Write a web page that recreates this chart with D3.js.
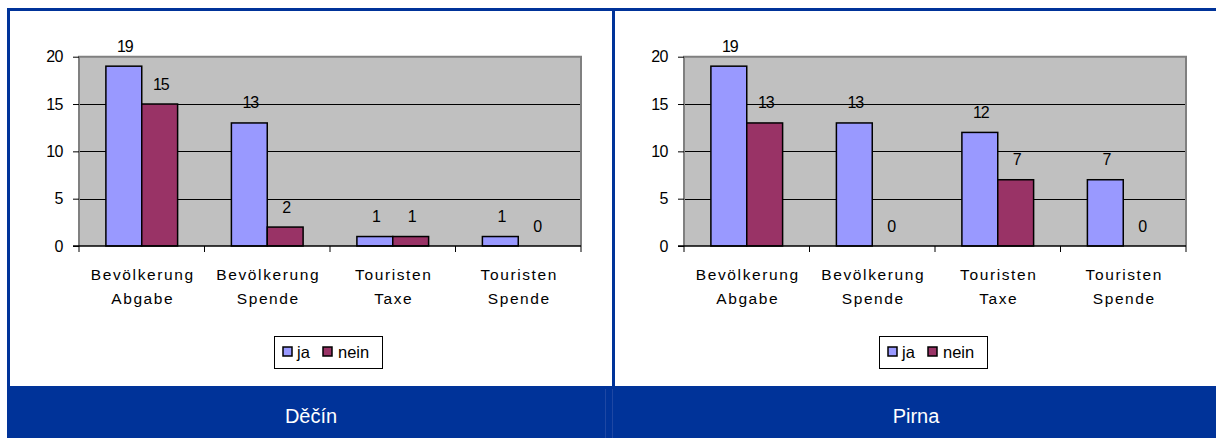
<!DOCTYPE html>
<html>
<head>
<meta charset="utf-8">
<script src="https://cdn.jsdelivr.net/npm/d3@7"></script>
<style>
  html, body { margin: 0; padding: 0; background: #fff; }
  svg { display: block; font-family: "Liberation Sans", Arial, sans-serif; }
</style>
</head>
<body>
<svg id="chart" width="1216" height="438"></svg>
<script>
// ---- data ----
const cities = ["Děčín", "Pirna"];
const categories = [["Bevölkerung", "Abgabe"], ["Bevölkerung", "Spende"], ["Touristen", "Taxe"], ["Touristen", "Spende"]];
const seriesNames = ["ja", "nein"];
const jaDecin = [19, 13, 1, 1];
const neinDecin = [15, 2, 1, 0];
const jaPirna = [19, 13, 12, 7];
const neinPirna = [13, 0, 7, 0];
const yTicks = [0, 5, 10, 15, 20];

const panelData = [
  { city: cities[0], ja: jaDecin, nein: neinDecin },
  { city: cities[1], ja: jaPirna, nein: neinPirna }
];

const colors = { ja: "#9999FF", nein: "#993366" };
const blue = "#003399";

const svg = d3.select("#chart");

// ---- frame ----
svg.append("rect").attr("x", 7).attr("y", 8).attr("width", 1209).attr("height", 3).attr("fill", blue);
svg.append("rect").attr("x", 7).attr("y", 8).attr("width", 3).attr("height", 380).attr("fill", blue);
svg.append("rect").attr("x", 612).attr("y", 8).attr("width", 3).attr("height", 380).attr("fill", blue);
svg.append("rect").attr("x", 7).attr("y", 386).attr("width", 1209).attr("height", 52).attr("fill", blue);
// faint cell separators in the bottom bar
[605, 612].forEach(x => {
  svg.append("line").attr("x1", x + 0.5).attr("x2", x + 0.5).attr("y1", 389).attr("y2", 438)
    .attr("stroke", "#3355aa").attr("stroke-width", 1).attr("opacity", 0.6);
});

const y = d3.scaleLinear().domain([0, 20]).range([246, 56.7]);

panelData.forEach((p, pi) => {
  const off = pi * 605;
  const g = svg.append("g").attr("transform", `translate(${off},0)`);
  const x0 = d3.scaleBand().domain(d3.range(categories.length)).range([79, 581]).padding(0);
  const x1 = d3.scaleBand().domain(seriesNames).range([0, x0.bandwidth()]).paddingInner(0).paddingOuter(0.75);

  // plot background
  g.append("rect").attr("x", 79).attr("y", y(20)).attr("width", 502).attr("height", y(0) - y(20))
    .attr("fill", "#C0C0C0");

  // gridlines
  g.selectAll(".grid").data(yTicks.filter(t => t > 0 && t < 20)).enter().append("line")
    .attr("x1", 79).attr("x2", 581)
    .attr("y1", d => Math.round(y(d)) + 0.5).attr("y2", d => Math.round(y(d)) + 0.5)
    .attr("stroke", "#000").attr("stroke-width", 1.2);

  // plot border (grey)
  g.append("path")
    .attr("d", `M79,${y(0)} L79,${y(20)} L581,${y(20)} L581,${y(0)}`)
    .attr("fill", "none").attr("stroke", "#808080").attr("stroke-width", 2);

  // bars
  categories.forEach((c, ci) => {
    seriesNames.forEach(s => {
      const v = p[s][ci];
      const bx = x0(ci) + x1(s);
      if (v > 0) {
        g.append("rect")
          .attr("x", bx).attr("y", y(v))
          .attr("width", x1.bandwidth()).attr("height", y(0) - y(v))
          .attr("fill", colors[s]).attr("stroke", "#000").attr("stroke-width", 1.5);
      }
      g.append("text")
        .attr("x", bx + x1.bandwidth() / 2 + 1)
        .attr("y", y(v) - 14.5)
        .attr("text-anchor", "middle")
        .attr("font-size", 16).attr("letter-spacing", -1.2)
        .attr("fill", "#000")
        .text(v);
    });
  });

  // y axis
  const yAxis = d3.axisLeft(y).tickValues(yTicks).tickSize(6).tickPadding(10);
  const ya = g.append("g").attr("transform", "translate(79,0)").call(yAxis);
  ya.select(".domain").remove();
  ya.selectAll("line").attr("stroke", "#000").attr("stroke-width", 1);
  ya.selectAll("text").attr("font-size", 16).attr("fill", "#000")
    .attr("font-family", "'Liberation Sans', Arial, sans-serif").attr("letter-spacing", -0.5);

  // x axis
  g.append("line").attr("x1", 73).attr("x2", 581).attr("y1", y(0)).attr("y2", y(0))
    .attr("stroke", "#000").attr("stroke-width", 1.5);
  const bounds = d3.range(categories.length + 1).map(i => 79 + i * x0.bandwidth());
  g.selectAll(".xt").data(bounds).enter().append("line")
    .attr("x1", d => d).attr("x2", d => d).attr("y1", y(0)).attr("y2", y(0) + 6)
    .attr("stroke", "#000").attr("stroke-width", 1);

  // category labels
  categories.forEach((c, ci) => {
    const cx = x0(ci) + x0.bandwidth() / 2 + 1;
    c.forEach((line, li) => {
      g.append("text")
        .attr("x", cx).attr("y", 280 + li * 23.5)
        .attr("text-anchor", "middle")
        .attr("font-size", 15.5).attr("letter-spacing", 1.6)
        .attr("fill", "#000")
        .text(line);
    });
  });

  // legend
  const lg = g.append("g");
  lg.append("rect").attr("x", 274.5).attr("y", 336.5).attr("width", 108).attr("height", 32)
    .attr("fill", "#fff").attr("stroke", "#000").attr("stroke-width", 1);
  const items = [{ s: "ja", sx: 283, tx: 297 }, { s: "nein", sx: 323, tx: 338 }];
  items.forEach(it => {
    lg.append("rect").attr("x", it.sx).attr("y", 347).attr("width", 9).attr("height", 9)
      .attr("fill", colors[it.s]).attr("stroke", "#000").attr("stroke-width", 1.5);
    lg.append("text").attr("x", it.tx).attr("y", 357.5).attr("font-size", 16.5).attr("fill", "#000").text(it.s);
  });

  // bottom title
  g.append("text").attr("x", 311).attr("y", 423).attr("text-anchor", "middle")
    .attr("font-size", 20).attr("fill", "#fff").text(p.city);
});
</script>
</body>
</html>
